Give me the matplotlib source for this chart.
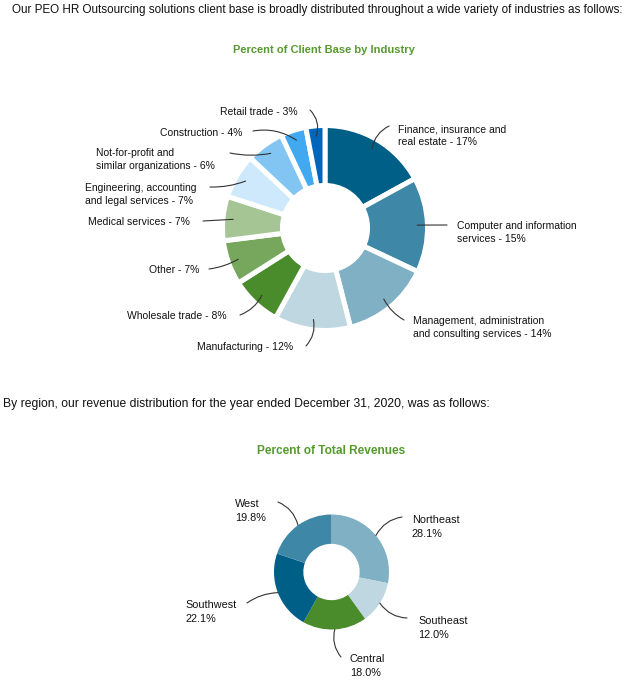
import numpy as np
import matplotlib
matplotlib.use("Agg")
import matplotlib.pyplot as plt

plt.rcParams['font.family'] = ['Liberation Sans', 'DejaVu Sans']

W, H = 640, 691

# ---------------- data ----------------
industries = ["Finance, insurance and\nreal estate - 17%",
              "Computer and information\nservices - 15%",
              "Management, administration\nand consulting services - 14%",
              "Manufacturing - 12%",
              "Wholesale trade - 8%",
              "Other - 7%",
              "Medical services - 7%",
              "Engineering, accounting\nand legal services - 7%",
              "Not-for-profit and\nsimilar organizations - 6%",
              "Construction - 4%",
              "Retail trade - 3%"]
industry_pct = [17, 15, 14, 12, 8, 7, 7, 7, 6, 4, 3]
industry_colors = ["#005f87", "#3e87a6", "#7fb0c4", "#bfd7e1", "#4a8b2c",
                   "#77a65d", "#a5c694", "#cde9fb", "#82c5f2", "#42a9f0", "#0066bb"]

regions = ["Northeast\n28.1%", "Southeast\n12.0%", "Central\n18.0%",
           "Southwest\n22.1%", "West\n19.8%"]
region_pct = [28.1, 12.0, 18.0, 22.1, 19.8]
region_colors = ["#7fb0c4", "#bfd7e1", "#4a8b2c", "#005f87", "#3e87a6"]

# label layout (pixel positions: text x, text top-line y, ha, connector start, curvature)
ind_layout = [
    (398, 130, 'left', (389, 126), 0.25),
    (457, 227, 'left', (447, 225), 0.0),
    (413, 322, 'left', (404, 320), -0.15),
    (293, 348, 'right', (306, 346), 0.25),
    (227, 317, 'right', (240, 315), 0.2),
    (199, 271, 'right', (209, 269), 0.1),
    (190, 223, 'right', (203, 221), 0.0),
    (85, 189, 'left', (210, 187), 0.1),
    (96, 154, 'left', (230, 153), 0.1),
    (242, 134, 'right', (253, 131), -0.2),
    (298, 113, 'right', (310, 110), -0.3),
]
reg_layout = [
    (412, 521, 'left', (402, 517), 0.25),
    (418, 622, 'left', (407, 618), -0.25),
    (350, 660, 'left', (341, 657), -0.25),
    (185, 606, 'left', (247, 603), -0.15),
    (235, 505, 'left', (278, 502), -0.25),
]

GREEN = "#559a2e"
TXT = "#111111"
LINE = "#333333"

fig = plt.figure(figsize=(W / 100, H / 100), dpi=100)
fig.patch.set_facecolor("white")


def ftext(px, py, s, **kw):
    return fig.text(px / W, 1 - py / H, s, **kw)


ftext(12, 10, "Our PEO HR Outsourcing solutions client base is broadly distributed "
      "throughout a wide variety of industries as follows:",
      fontsize=8.35, color=TXT, ha='left', va='center')
ftext(324, 50, "Percent of Client Base by Industry", fontsize=8.05,
      fontweight='bold', color=GREEN, ha='center', va='center')
ftext(3, 404, "By region, our revenue distribution for the year ended December 31, "
      "2020, was as follows:", fontsize=8.75, color=TXT, ha='left', va='center')
ftext(331, 451, "Percent of Total Revenues", fontsize=8.6,
      fontweight='bold', color=GREEN, ha='center', va='center')


def donut(cx, cy, R, width, values, colors, labels, layout, lw, r_conn, fs, ls):
    ax = fig.add_axes([(cx - R) / W, (H - cy - R) / H, 2 * R / W, 2 * R / H])
    wedges, _ = ax.pie(values, colors=colors, startangle=90, counterclock=False,
                       radius=1.0,
                       wedgeprops=dict(width=width, edgecolor='white', linewidth=lw))
    ax.set_xlim(-1, 1)
    ax.set_ylim(-1, 1)
    ax.set_aspect('equal')
    ax.axis('off')
    for w, lab, (tx, ty, ha, (sx, sy), rad) in zip(wedges, labels, layout):
        ang = np.deg2rad((w.theta1 + w.theta2) / 2)
        ax.annotate('', xy=(r_conn * np.cos(ang), r_conn * np.sin(ang)),
                    xytext=(sx, H - sy), textcoords='figure pixels',
                    annotation_clip=False,
                    arrowprops=dict(arrowstyle='-', color=LINE, lw=0.8,
                                    shrinkA=0, shrinkB=0,
                                    connectionstyle=f'arc3,rad={rad}'))
        ftext(tx, ty - 6, lab, fontsize=fs, color=TXT, ha=ha, va='top',
              linespacing=ls)
    return ax


donut(325, 228, 102.5, 0.585, industry_pct, industry_colors, industries,
      ind_layout, 3.6, 0.9, 7.5, 1.38)
donut(331.5, 572, 57.5, 0.51, region_pct, region_colors, regions,
      reg_layout, 0.0, 1.0, 7.8, 1.5)

fig.savefig("out.png", dpi=100, facecolor="white")
